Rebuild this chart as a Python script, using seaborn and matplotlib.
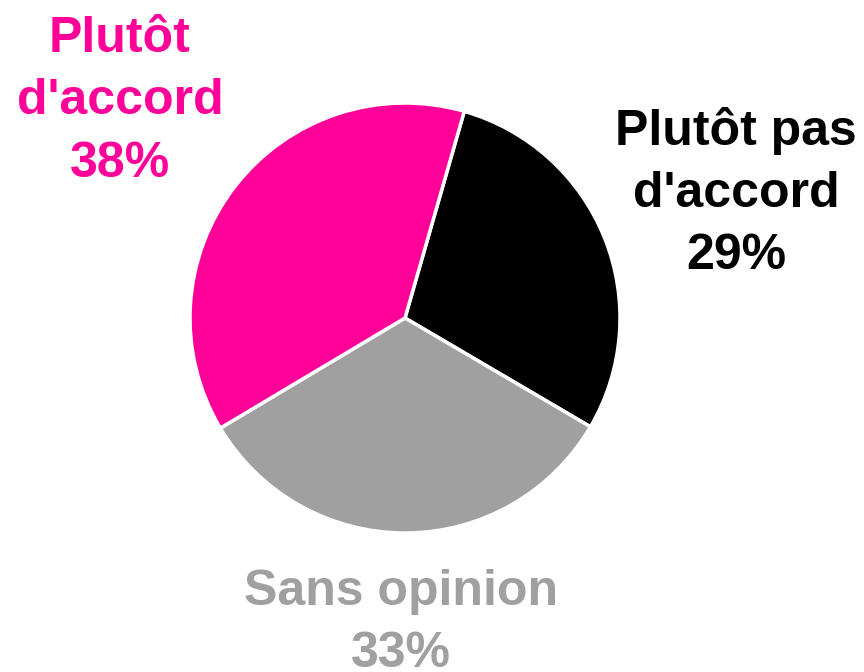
import seaborn as sns
import matplotlib.pyplot as plt

# données du graphique
categories = ["Plutôt pas d'accord", "Sans opinion", "Plutôt d'accord"]
pourcentages = [29, 33, 38]
couleurs = ["#000000", "#A0A0A0", "#FF0099"]
etiquettes = [["Plutôt pas", "d'accord", "29%"],
              ["Sans opinion", "33%"],
              ["Plutôt", "d'accord", "38%"]]

sns.set_theme(style="white")
plt.rcParams['font.family'] = ['Liberation Sans', 'DejaVu Sans']

fig = plt.figure(figsize=(8.64, 6.72), dpi=100)
ax = fig.add_axes([0, 0, 1, 1])

ax.pie(pourcentages, colors=couleurs, startangle=74, counterclock=False,
       wedgeprops=dict(edgecolor="white", linewidth=2.5))

# centre du camembert à (405, 318) px, rayon 215 px
r = 215
ax.set_xlim(-405 / r, (864 - 405) / r)
ax.set_ylim(-(672 - 318) / r, 318 / r)
ax.set_aspect('auto')
ax.axis('off')

# position des étiquettes (x, ligne de base de la première ligne)
positions = [(1.54, 0.806), (-0.02, -1.335), (-1.326, 1.237)]
interligne = 0.29

for lignes, (x, y), c in zip(etiquettes, positions, couleurs):
    for i, ligne in enumerate(lignes):
        ax.text(x, y - i * interligne, ligne, ha='center', va='baseline',
                fontsize=36, fontweight='bold', color=c)

plt.savefig("out.png", dpi=100)
